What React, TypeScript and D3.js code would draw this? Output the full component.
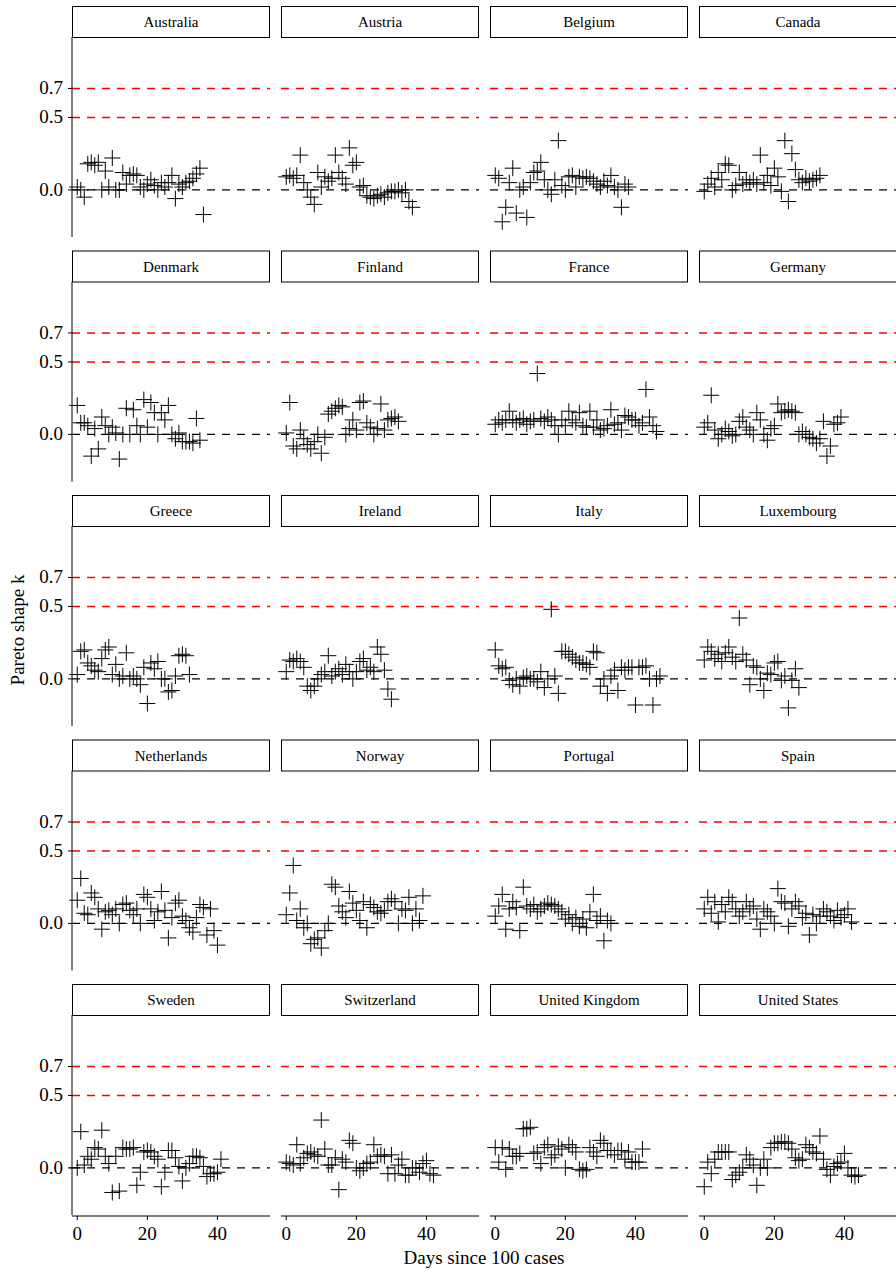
import React from "react";
import * as d3 from "d3";

const countries = ["Australia","Austria","Belgium","Canada","Denmark","Finland","France","Germany","Greece","Ireland","Italy","Luxembourg","Netherlands","Norway","Portugal","Spain","Sweden","Switzerland","United Kingdom","United States"];

const australia = [0.02,0.0,-0.05,0.18,0.19,0.17,0.19,0.0,0.13,0.02,0.22,0.0,0.0,0.12,0.04,0.10,0.11,0.10,0.02,0.0,0.04,0.07,0.03,0.0,0.05,0.02,0.05,0.10,-0.06,0.04,0.02,0.05,0.06,0.08,0.11,0.15,-0.17];
const austria = [0.09,0.10,0.08,0.10,0.24,0.05,0.0,-0.05,-0.10,0.12,0.02,0.09,0.06,0.08,0.24,0.12,0.08,0.04,0.29,0.17,0.19,0.02,0.03,-0.04,-0.05,-0.06,-0.04,-0.03,-0.05,-0.02,-0.01,-0.01,0.0,-0.02,0.0,-0.08,-0.12];
const belgium = [0.10,0.08,-0.22,-0.12,0.05,0.15,-0.16,0.0,0.02,-0.19,0.05,0.12,0.13,0.19,0.07,0.0,-0.03,0.07,0.34,0.03,0.0,0.09,0.10,0.02,0.09,0.08,0.09,0.08,0.06,0.04,0.02,0.06,0.03,0.10,0.02,0.0,-0.12,0.04,0.02];
const canada = [-0.01,0.04,0.08,0.02,0.12,0.07,0.18,0.17,0.0,0.03,0.12,0.04,0.07,0.05,0.07,0.04,0.24,0.05,0.10,0.03,0.15,0.09,-0.01,0.34,-0.08,0.25,0.14,0.07,0.05,0.08,0.06,0.07,0.08,0.10];
const denmark = [0.2,0.08,0.08,0.06,-0.15,0.04,-0.10,0.12,0.06,0.0,0.05,0.01,-0.17,0.0,0.18,0.0,0.17,0.06,0.0,0.24,0.05,0.22,0.15,0.0,0.15,0.10,0.20,0.0,-0.03,0.01,-0.05,-0.05,-0.05,-0.06,0.11,-0.04];
const finland = [0.01,0.22,-0.08,-0.10,0.03,-0.03,-0.07,-0.10,-0.05,0.0,-0.13,-0.02,0.14,0.16,0.18,0.20,0.19,0.0,0.04,0.10,0.03,0.22,0.23,0.08,0.05,0.0,0.04,0.21,0.03,0.10,0.11,0.12,0.09];
const france = [0.07,0.10,0.08,0.10,0.16,0.10,0.08,0.10,0.11,0.07,0.09,0.10,0.42,0.11,0.09,0.12,0.10,0.06,0.0,0.10,0.06,0.16,0.10,0.08,0.15,0.06,0.05,0.16,0.05,0.10,0.03,0.04,0.06,0.17,0.07,0.08,0.03,0.13,0.12,0.10,0.10,0.06,0.08,0.31,0.12,0.06,0.02];
const germany = [0.05,0.08,0.27,0.03,-0.03,0.0,0.04,0.02,-0.01,0.0,0.09,0.12,0.05,0.03,0.0,0.15,0.10,0.0,-0.04,0.04,0.06,0.21,0.15,0.16,0.17,0.16,0.15,0.0,0.02,0.0,-0.02,-0.03,-0.06,-0.03,0.09,-0.15,-0.08,0.07,0.08,0.12];
const greece = [0.03,0.19,0.20,0.11,0.09,0.06,0.05,0.14,0.20,0.22,0.03,0.10,0.0,0.02,0.18,0.0,0.02,0.0,-0.04,0.08,-0.17,0.11,0.07,0.12,0.0,0.0,-0.09,-0.08,0.02,0.16,0.17,0.16,0.03];
const ireland = [0.05,0.13,0.12,0.14,0.12,0.08,-0.05,-0.08,-0.05,0.0,0.03,0.05,0.16,0.02,0.05,0.07,0.03,0.10,0.05,0.0,0.05,0.12,0.14,0.06,0.08,0.05,0.22,0.17,0.06,-0.07,-0.14];
const italy = [0.2,0.09,0.07,0.08,-0.01,-0.04,0.0,-0.05,0.01,0.02,0.0,0.0,-0.02,0.05,-0.06,0.0,0.48,0.02,-0.10,0.19,0.19,0.17,0.15,0.13,0.11,0.11,0.10,0.08,0.19,0.18,-0.05,0.0,-0.10,0.02,0.06,-0.08,0.08,0.06,0.08,0.08,-0.18,0.08,0.08,0.09,0.0,-0.18,0.0,0.02];
const luxembourg = [0.13,0.22,0.19,0.14,0.17,0.12,0.18,0.22,0.15,0.12,0.42,0.17,0.13,-0.04,0.09,0.08,0.0,-0.08,0.04,0.03,0.11,0.12,-0.01,0.02,-0.20,-0.01,0.07,-0.06];
const netherlands = [0.16,0.31,0.07,0.06,0.21,0.18,0.10,-0.04,0.08,0.09,0.06,0.10,0.0,0.13,0.14,0.09,0.06,0.10,0.0,0.20,0.18,0.10,0.02,0.08,0.22,0.09,-0.10,0.04,0.14,0.16,0.05,0.02,-0.03,-0.06,0.04,0.13,0.11,-0.08,0.10,-0.05,-0.15];
const norway = [0.06,0.21,0.40,0.02,0.10,-0.03,0.0,-0.14,-0.11,-0.10,-0.17,-0.05,0.0,0.27,0.25,0.12,0.08,0.04,0.22,0.14,0.09,0.02,0.15,-0.03,0.13,0.11,0.08,0.07,0.09,0.15,0.17,0.15,0.0,0.10,0.09,0.18,0.0,0.10,0.02,0.19];
const portugal = [0.05,0.12,0.20,-0.04,0.10,0.15,0.11,-0.05,0.25,0.12,0.10,0.13,0.08,0.10,0.12,0.14,0.13,0.12,0.10,0.08,0.03,0.06,0.0,0.04,-0.02,0.03,-0.03,0.08,0.20,0.02,0.05,-0.12,0.02,0.0];
const spain = [0.10,0.18,0.07,0.15,0.01,0.13,0.08,0.18,0.15,0.10,0.05,0.08,0.15,0.10,0.12,0.03,-0.04,0.10,0.08,0.05,0.0,0.24,0.15,0.14,-0.02,0.10,0.15,0.12,0.04,0.07,-0.08,0.06,0.0,0.05,0.10,0.08,0.05,0.02,0.09,0.04,0.06,0.10,0.01];
const sweden = [0.0,0.25,0.02,0.08,0.06,0.14,0.13,0.26,0.08,0.03,-0.17,0.08,-0.16,0.14,0.13,0.13,0.14,-0.12,-0.03,0.11,0.12,0.11,0.08,0.06,-0.13,-0.03,0.12,0.12,0.07,0.01,-0.09,0.0,0.03,0.08,0.08,0.07,0.01,-0.06,-0.04,-0.04,-0.03,0.06];
const switzerland = [0.04,0.03,0.02,0.16,0.03,0.07,0.10,0.11,0.09,0.08,0.33,0.13,0.02,0.02,0.07,-0.15,0.06,0.04,0.19,0.17,0.0,-0.02,0.0,0.03,0.04,0.16,0.08,0.09,0.08,-0.04,0.09,-0.04,0.02,0.06,-0.05,-0.05,0.0,0.0,-0.03,0.03,0.05,-0.04,-0.05];
const unitedKingdom = [0.14,0.04,0.14,-0.01,0.13,0.08,0.08,0.10,0.27,0.27,0.28,0.10,0.11,0.03,0.14,0.16,0.07,0.09,0.15,0.13,0.0,0.16,0.14,0.11,-0.01,-0.02,-0.01,0.14,0.11,0.08,0.19,0.17,0.12,0.12,0.09,0.12,0.12,0.06,0.11,0.04,0.04,0.04,0.13];
const unitedStates = [-0.13,0.04,-0.04,0.06,0.11,0.11,0.11,0.11,-0.08,-0.05,-0.03,0.0,0.09,0.06,0.02,-0.12,0.0,0.06,0.0,0.14,0.17,0.17,0.18,0.18,0.17,0.13,0.07,0.05,0.06,0.16,0.14,0.11,0.10,0.22,0.06,-0.01,-0.05,0.01,0.03,0.04,0.10,0.0,-0.05,-0.06,-0.05];

const seriesList = [australia,austria,belgium,canada,denmark,finland,france,germany,greece,ireland,italy,luxembourg,netherlands,norway,portugal,spain,sweden,switzerland,unitedKingdom,unitedStates];

const yTicks = [0.0, 0.5, 0.7];
const xTicks = [0, 20, 40];
const refLines = [0.5, 0.7];

const FONT = "'Liberation Serif', 'DejaVu Serif', serif";

export default function App() {
  const W = 896, H = 1273;
  const colX0 = 72, colStep = 209, pw = 198;
  const rowY0 = 6, rowStep = 244.5, stripH = 31, ph = 200;
  const x = d3.scaleLinear().domain([-1.5, 55]).range([0, pw]);
  const y = d3.scaleLinear().domain([-0.325, 1.055]).range([ph, 0]);
  const s = 8;
  return (
    <svg width={W} height={H} style={{ position: "absolute", left: 0, top: 0, fontFamily: FONT }}>
      <rect width={W} height={H} fill="white" />
      {countries.map((c, i) => {
        const col = i % 4, row = Math.floor(i / 4);
        const left = colX0 + col * colStep;
        const top = rowY0 + row * rowStep;
        const ptop = top + stripH;
        const data = seriesList[i];
        const lineW = col === 3 ? 200 : pw;
        return (
          <g key={c}>
            <rect x={left + 0.5} y={top + 0.5} width={pw - 1} height={stripH} fill="white" stroke="black" strokeWidth={1} />
            <text x={left + pw / 2} y={top + 21} textAnchor="middle" fontSize={15}>{c}</text>
            <g transform={`translate(${left},${ptop})`}>
              {refLines.map(v => (
                <line key={v} x1={0} x2={lineW} y1={y(v)} y2={y(v)} stroke="#ff0000" strokeWidth={1.4} strokeDasharray="8,7" />
              ))}
              <line x1={0} x2={lineW} y1={y(0)} y2={y(0)} stroke="black" strokeWidth={1.4} strokeDasharray="8,7" />
              {data.map((v, d) => (
                <path key={d} d={`M${x(d) - s},${y(v)}h${2 * s}M${x(d)},${y(v) - s}v${2 * s}`} stroke="black" strokeWidth={1} fill="none" />
              ))}
              {col === 0 && (
                <g>
                  <line x1={0} x2={0} y1={0} y2={ph} stroke="black" strokeWidth={1} />
                  {yTicks.map(t => (
                    <g key={t}>
                      <line x1={-4} x2={0} y1={y(t)} y2={y(t)} stroke="black" />
                      <text x={-9} y={y(t) + 6} textAnchor="end" fontSize={19}>{t.toFixed(1)}</text>
                    </g>
                  ))}
                </g>
              )}
              {row === 4 && (
                <g transform={`translate(0,${ph + 1})`}>
                  <line x1={0} x2={pw} y1={0} y2={0} stroke="black" />
                  {xTicks.map(t => (
                    <g key={t}>
                      <line x1={x(t)} x2={x(t)} y1={0} y2={4} stroke="black" />
                      <text x={x(t)} y={24} textAnchor="middle" fontSize={19}>{t}</text>
                    </g>
                  ))}
                </g>
              )}
            </g>
          </g>
        );
      })}
      <text transform="translate(24,630) rotate(-90)" textAnchor="middle" fontSize={19}>Pareto shape k</text>
      <text x={484} y={1264} textAnchor="middle" fontSize={19}>Days since 100 cases</text>
    </svg>
  );
}
